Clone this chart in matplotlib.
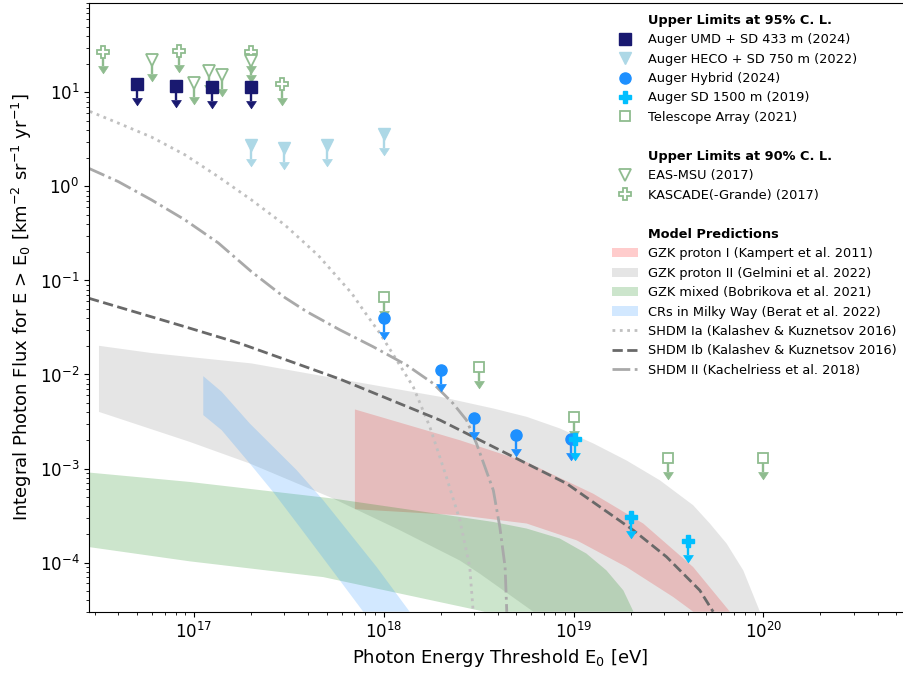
import numpy as np
import matplotlib
matplotlib.use("Agg")
import matplotlib.pyplot as plt
from matplotlib.path import Path
from matplotlib.lines import Line2D
from matplotlib.patches import Patch

# ---------------- Upper limits (E0 [eV], integral flux) ----------------
umd_E = [5e16, 8e16, 1.25e17, 2e17]
umd_F = [12.3, 11.8, 11.3, 11.3]

heco_E = [2e17, 3e17, 5e17, 1e18]
heco_F = [2.77, 2.56, 2.77, 3.61]

hybrid_E = [1e18, 2e18, 3e18, 5e18, 9.7e18]
hybrid_F = [0.0395, 0.0111, 3.46e-3, 2.26e-3, 2.05e-3]

sd1500_E = [1.02e19, 2e19, 4e19]
sd1500_F = [2.04e-3, 3.05e-4, 1.69e-4]

ta_E = [1e18, 3.16e18, 1e19, 3.16e19, 1e20]
ta_F = [0.0662, 0.0119, 3.55e-3, 1.28e-3, 1.28e-3]

easmsu_E = [6e16, 1e17, 1.2e17, 1.4e17, 2e17]
easmsu_F = [21.9, 12.6, 16.8, 15.2, 21.4]

kascade_E = [3.3e16, 8.3e16, 2e17, 2.92e17]
kascade_F = [26.9, 27.3, 26.6, 12.4]

# ---------------- Model bands ----------------
gzk1_top_E = [7.05e17, 2.52e18, 5.66e18, 1.27e19, 2.33e19, 4.27e19, 6.67e19]
gzk1_top_F = [4.25e-3, 2.0e-3, 1.17e-3, 5.4e-4, 2.6e-4, 8.96e-5, 3.0e-5]
gzk1_bot_E = [7.05e17, 2.52e18, 5.66e18, 1.04e19, 1.9e19, 3.35e19, 4.27e19]
gzk1_bot_F = [3.69e-4, 3.18e-4, 2.6e-4, 1.72e-4, 8.96e-5, 4.3e-5, 3.0e-5]

gzk2_top_E = [3.16e16, 5.99e16, 2.01e17, 5.88e17, 1.98e18, 3.78e18, 5.66e18, 8.47e18,
              1.27e19, 1.9e19, 2.85e19, 4.27e19, 5.23e19, 6.41e19, 7.84e19, 9.6e19]
gzk2_top_F = [0.0202, 0.0169, 0.01312, 8.93e-3, 5.8e-3, 4.35e-3, 3.55e-3, 2.67e-3,
              1.85e-3, 1.22e-3, 7.5e-4, 4.07e-4, 2.6e-4, 1.59e-4, 8.26e-5, 3.0e-5]
gzk2_bot_E = [3.16e16, 9.5e16, 1.97e17, 5.42e17, 1.22e18, 2.52e18, 3.21e18, 6.14e18]
gzk2_bot_F = [4.0e-3, 1.92e-3, 1.13e-3, 4.79e-4, 2.2e-4, 1.05e-4, 7.6e-5, 3.0e-5]

mixed_top_E = [2.8e16, 9.5e16, 5.42e17, 2.52e18, 3.78e18, 5.66e18, 8.47e18, 1.17e19,
               1.49e19, 1.83e19, 2.07e19]
mixed_top_F = [9.06e-4, 7.2e-4, 4.79e-4, 3.05e-4, 2.70e-4, 2.30e-4, 1.80e-4, 1.245e-4,
               8.26e-5, 5.06e-5, 3.0e-5]
mixed_bot_E = [2.8e16, 9.5e16, 4.8e17, 3.4e18]
mixed_bot_F = [1.46e-4, 1.03e-4, 7.0e-5, 3.0e-5]

mw_top_E = [1.12e17, 1.40e17, 1.97e17, 3.48e17, 4.8e17, 6.64e17, 9.18e17, 1.37e18]
mw_top_F = [9.6e-3, 6.55e-3, 3.01e-3, 9.6e-4, 4.6e-4, 2.03e-4, 8.96e-5, 3.0e-5]
mw_bot_E = [1.12e17, 1.40e17, 1.97e17, 2.62e17, 3.61e17, 5.2e17, 7.8e17]
mw_bot_F = [3.7e-3, 2.56e-3, 1.13e-3, 5.6e-4, 2.39e-4, 8.96e-5, 3.0e-5]

# ---------------- Model lines ----------------
shdm1a_E = [2.83e16, 3.99e16, 5.98e16, 8.97e16, 1.343e17, 2.01e17, 3.01e17, 4.52e17,
            6.78e17, 7.8e17, 9.55e17, 1.17e18, 1.43e18, 1.75e18, 2.14e18, 2.52e18,
            2.84e18, 2.96e18]
shdm1a_F = [6.28, 4.72, 3.35, 2.17, 1.27, 0.719, 0.390, 0.1845,
            0.0731, 0.0485, 0.0274, 0.01422, 7.4e-3, 2.77e-3, 8.1e-4, 2.81e-4,
            8.96e-5, 3.0e-5]

shdm1b_E = [2.8e16, 8.97e16, 1.75e17, 5.88e17, 1.98e18, 4.09e18, 6.14e18, 9.2e18,
            1.38e19, 2.07e19, 3.09e19, 4.63e19, 5.44e19]
shdm1b_F = [0.0646, 0.0322, 0.0214, 8.93e-3, 3.27e-3, 1.57e-3, 1.04e-3, 6.92e-4,
            3.90e-4, 2.20e-4, 1.15e-4, 5.06e-5, 3.0e-5]

shdm2_E = [2.77e16, 3.99e16, 5.98e16, 8.97e16, 1.343e17, 2.01e17, 3.01e17, 3.93e17,
           5.88e17, 8.81e17, 1.32e18, 1.82e18, 2.32e18, 2.73e18, 3.08e18, 3.78e18,
           4.09e18, 4.36e18, 4.45e18]
shdm2_F = [1.57, 1.127, 0.719, 0.441, 0.251, 0.124, 0.0659, 0.0466,
           0.0298, 0.0197, 0.01259, 8.04e-3, 4.92e-3, 3.27e-3, 1.85e-3, 5.87e-4,
           2.39e-4, 8.96e-5, 3.0e-5]

x_ticks = [1e17, 1e18, 1e19, 1e20]
x_tick_labels = [r"$10^{17}$", r"$10^{18}$", r"$10^{19}$", r"$10^{20}$"]
y_ticks = [1e-4, 1e-3, 1e-2, 1e-1, 1e0, 1e1]
y_tick_labels = [r"$10^{-4}$", r"$10^{-3}$", r"$10^{-2}$", r"$10^{-1}$",
                 r"$10^{0}$", r"$10^{1}$"]

# ---------------- Figure ----------------
fig = plt.figure(figsize=(9.04, 6.73), dpi=100)
ax = fig.add_axes([89 / 904, 61.3 / 673, 822 / 904, 609 / 673])
ax.set_xscale("log")
ax.set_yscale("log")
ax.set_xlim(2.8e16, 6.0e20)
ax.set_ylim(3e-5, 90)


def band(top_E, top_F, bot_E, bot_F, color):
    xs = list(top_E) + list(bot_E)[::-1]
    ys = list(top_F) + list(bot_F)[::-1]
    return ax.fill(xs, ys, color=color, alpha=0.2, lw=0, zorder=1)


band(gzk1_top_E, gzk1_top_F, gzk1_bot_E, gzk1_bot_F, "red")
band(gzk2_top_E, gzk2_top_F, gzk2_bot_E, gzk2_bot_F, "gray")
band(mixed_top_E, mixed_top_F, mixed_bot_E, mixed_bot_F, "green")
band(mw_top_E, mw_top_F, mw_bot_E, mw_bot_F, "dodgerblue")

ax.plot(shdm1a_E, shdm1a_F, ls=":", color="silver", lw=2, zorder=2)
ax.plot(shdm1b_E, shdm1b_F, ls="--", color="dimgray", lw=2, zorder=2)
ax.plot(shdm2_E, shdm2_F, ls="-.", color="darkgray", lw=2, zorder=2)

HEAD = Path([[-1, 0], [0, -1.5], [1, 0], [-1, 0]],
            [Path.MOVETO, Path.LINETO, Path.LINETO, Path.CLOSEPOLY])
ARROW_FACTOR = 0.71


def upper_limits(E, F, color, marker, ms, mfc, mew=1.0):
    E = np.asarray(E)
    F = np.asarray(F)
    tip = F * ARROW_FACTOR
    ax.vlines(E, tip, F, colors=color, lw=1.7, zorder=4)
    ax.plot(E, tip, ls="none", marker=HEAD, ms=10.5, mfc=color, mec=color,
            mew=0.5, zorder=4)
    ax.plot(E, F, ls="none", marker=marker, ms=ms, mfc=mfc, mec=color,
            mew=mew, zorder=5)


GREEN = "darkseagreen"
upper_limits(kascade_E, kascade_F, GREEN, "P", 8, "white", 1.3)
upper_limits(easmsu_E, easmsu_F, GREEN, "v", 9, "white", 1.3)
upper_limits(umd_E, umd_F, "midnightblue", "s", 8, "midnightblue")
upper_limits(heco_E, heco_F, "lightblue", "v", 9, "lightblue")
upper_limits(ta_E, ta_F, GREEN, "s", 7, "white", 1.3)
upper_limits(hybrid_E, hybrid_F, "dodgerblue", "o", 8, "dodgerblue")
upper_limits(sd1500_E, sd1500_F, "deepskyblue", "P", 8, "deepskyblue")

ax.set_xticks(x_ticks)
ax.set_xticklabels(x_tick_labels)
ax.set_yticks(y_ticks)
ax.set_yticklabels(y_tick_labels)
ax.tick_params(axis="both", which="major", labelsize=12)
ax.spines["right"].set_visible(False)

ax.set_xlabel(r"Photon Energy Threshold E$_0$ [eV]", fontsize=13)
ax.set_ylabel(r"Integral Photon Flux for E > E$_0$ [km$^{-2}$ sr$^{-1}$ yr$^{-1}$]",
              fontsize=13)

# ---------------- Legend ----------------
blank = Line2D([], [], ls="none")
handles = [
    blank,
    Line2D([], [], ls="none", marker="s", ms=8, color="midnightblue"),
    Line2D([], [], ls="none", marker="v", ms=9, color="lightblue"),
    Line2D([], [], ls="none", marker="o", ms=8, color="dodgerblue"),
    Line2D([], [], ls="none", marker="P", ms=8, color="deepskyblue"),
    Line2D([], [], ls="none", marker="s", ms=7, mfc="white", mec=GREEN, mew=1.3),
    blank,
    blank,
    Line2D([], [], ls="none", marker="v", ms=9, mfc="white", mec=GREEN, mew=1.3),
    Line2D([], [], ls="none", marker="P", ms=8, mfc="white", mec=GREEN, mew=1.3),
    blank,
    blank,
    Patch(facecolor="red", alpha=0.2, lw=0),
    Patch(facecolor="gray", alpha=0.2, lw=0),
    Patch(facecolor="green", alpha=0.2, lw=0),
    Patch(facecolor="dodgerblue", alpha=0.2, lw=0),
    Line2D([], [], ls=":", color="silver", lw=2),
    Line2D([], [], ls="--", color="dimgray", lw=2),
    Line2D([], [], ls="-.", color="darkgray", lw=2),
]
titles = ["Upper Limits at 95% C. L.", "Upper Limits at 90% C. L.", "Model Predictions"]
labels = [
    titles[0],
    "Auger UMD + SD 433 m (2024)",
    "Auger HECO + SD 750 m (2022)",
    "Auger Hybrid (2024)",
    "Auger SD 1500 m (2019)",
    "Telescope Array (2021)",
    " ",
    titles[1],
    "EAS-MSU (2017)",
    "KASCADE(-Grande) (2017)",
    " ",
    titles[2],
    "GZK proton I (Kampert et al. 2011)",
    "GZK proton II (Gelmini et al. 2022)",
    "GZK mixed (Bobrikova et al. 2021)",
    "CRs in Milky Way (Berat et al. 2022)",
    "SHDM Ia (Kalashev & Kuznetsov 2016)",
    "SHDM Ib (Kalashev & Kuznetsov 2016)",
    "SHDM II (Kachelriess et al. 2018)",
]
leg = ax.legend(handles, labels, loc="upper left", bbox_to_anchor=(0.636, 0.982),
                frameon=False, fontsize=9.3, labelspacing=0.5, borderpad=0,
                borderaxespad=0, handlelength=2.0, handletextpad=0.8)
for t in leg.get_texts():
    if t.get_text() in titles:
        t.set_fontweight("bold")

fig.savefig("out.png", dpi=100)
